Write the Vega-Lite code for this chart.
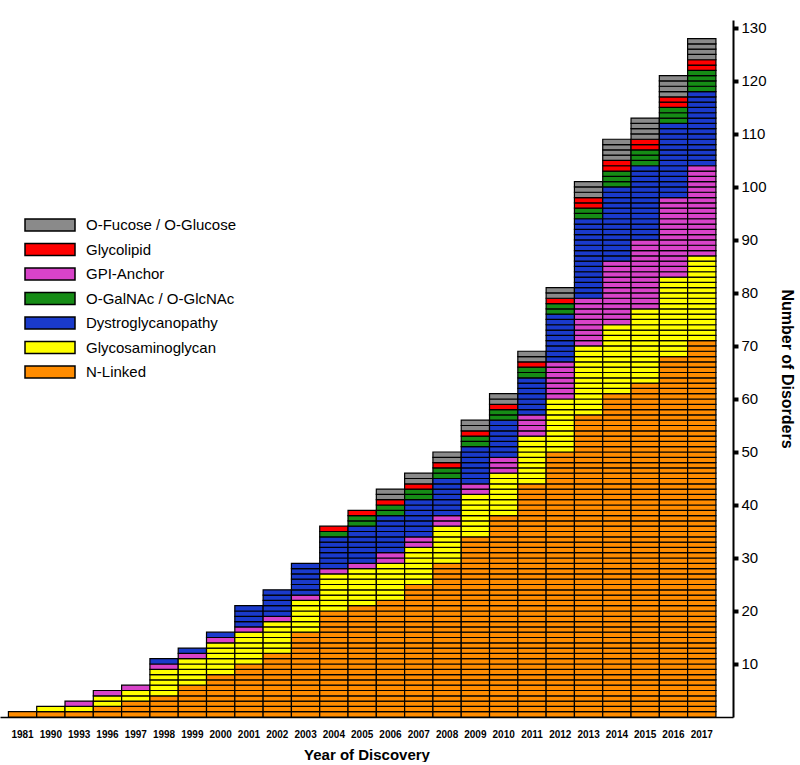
{
"$schema": "https://vega.github.io/schema/vega-lite/v6.json",
"width": 733, "height": 697,
"padding": {"left": 0, "top": 20, "right": 0, "bottom": 0},
"autosize": {"type": "pad"},
"background": "white",
"config": {"view": {"stroke": null}, "font": "Liberation Sans"},
"data": {"values": [
{"year":"1981","category":"N-Linked","rank":1,"count":1,"units":[1]},
{"year":"1990","category":"N-Linked","rank":1,"count":1,"units":[1]},
{"year":"1990","category":"Glycosaminoglycan","rank":2,"count":1,"units":[1]},
{"year":"1993","category":"N-Linked","rank":1,"count":1,"units":[1]},
{"year":"1993","category":"Glycosaminoglycan","rank":2,"count":1,"units":[1]},
{"year":"1993","category":"GPI-Anchor","rank":3,"count":1,"units":[1]},
{"year":"1996","category":"N-Linked","rank":1,"count":2,"units":[1,1]},
{"year":"1996","category":"Glycosaminoglycan","rank":2,"count":2,"units":[1,1]},
{"year":"1996","category":"GPI-Anchor","rank":3,"count":1,"units":[1]},
{"year":"1997","category":"N-Linked","rank":1,"count":3,"units":[1,1,1]},
{"year":"1997","category":"Glycosaminoglycan","rank":2,"count":2,"units":[1,1]},
{"year":"1997","category":"GPI-Anchor","rank":3,"count":1,"units":[1]},
{"year":"1998","category":"N-Linked","rank":1,"count":4,"units":[1,1,1,1]},
{"year":"1998","category":"Glycosaminoglycan","rank":2,"count":5,"units":[1,1,1,1,1]},
{"year":"1998","category":"GPI-Anchor","rank":3,"count":1,"units":[1]},
{"year":"1998","category":"Dystroglycanopathy","rank":4,"count":1,"units":[1]},
{"year":"1999","category":"N-Linked","rank":1,"count":6,"units":[1,1,1,1,1,1]},
{"year":"1999","category":"Glycosaminoglycan","rank":2,"count":5,"units":[1,1,1,1,1]},
{"year":"1999","category":"GPI-Anchor","rank":3,"count":1,"units":[1]},
{"year":"1999","category":"Dystroglycanopathy","rank":4,"count":1,"units":[1]},
{"year":"2000","category":"N-Linked","rank":1,"count":8,"units":[1,1,1,1,1,1,1,1]},
{"year":"2000","category":"Glycosaminoglycan","rank":2,"count":6,"units":[1,1,1,1,1,1]},
{"year":"2000","category":"GPI-Anchor","rank":3,"count":1,"units":[1]},
{"year":"2000","category":"Dystroglycanopathy","rank":4,"count":1,"units":[1]},
{"year":"2001","category":"N-Linked","rank":1,"count":10,"units":[1,1,1,1,1,1,1,1,1,1]},
{"year":"2001","category":"Glycosaminoglycan","rank":2,"count":6,"units":[1,1,1,1,1,1]},
{"year":"2001","category":"GPI-Anchor","rank":3,"count":1,"units":[1]},
{"year":"2001","category":"Dystroglycanopathy","rank":4,"count":4,"units":[1,1,1,1]},
{"year":"2002","category":"N-Linked","rank":1,"count":12,"units":[1,1,1,1,1,1,1,1,1,1,1,1]},
{"year":"2002","category":"Glycosaminoglycan","rank":2,"count":6,"units":[1,1,1,1,1,1]},
{"year":"2002","category":"GPI-Anchor","rank":3,"count":1,"units":[1]},
{"year":"2002","category":"Dystroglycanopathy","rank":4,"count":5,"units":[1,1,1,1,1]},
{"year":"2003","category":"N-Linked","rank":1,"count":16,"units":[1,1,1,1,1,1,1,1,1,1,1,1,1,1,1,1]},
{"year":"2003","category":"Glycosaminoglycan","rank":2,"count":6,"units":[1,1,1,1,1,1]},
{"year":"2003","category":"GPI-Anchor","rank":3,"count":1,"units":[1]},
{"year":"2003","category":"Dystroglycanopathy","rank":4,"count":6,"units":[1,1,1,1,1,1]},
{"year":"2004","category":"N-Linked","rank":1,"count":20,"units":[1,1,1,1,1,1,1,1,1,1,1,1,1,1,1,1,1,1,1,1]},
{"year":"2004","category":"Glycosaminoglycan","rank":2,"count":7,"units":[1,1,1,1,1,1,1]},
{"year":"2004","category":"GPI-Anchor","rank":3,"count":1,"units":[1]},
{"year":"2004","category":"Dystroglycanopathy","rank":4,"count":6,"units":[1,1,1,1,1,1]},
{"year":"2004","category":"O-GalNAc / O-GlcNAc","rank":5,"count":1,"units":[1]},
{"year":"2004","category":"Glycolipid","rank":6,"count":1,"units":[1]},
{"year":"2005","category":"N-Linked","rank":1,"count":21,"units":[1,1,1,1,1,1,1,1,1,1,1,1,1,1,1,1,1,1,1,1,1]},
{"year":"2005","category":"Glycosaminoglycan","rank":2,"count":7,"units":[1,1,1,1,1,1,1]},
{"year":"2005","category":"GPI-Anchor","rank":3,"count":1,"units":[1]},
{"year":"2005","category":"Dystroglycanopathy","rank":4,"count":7,"units":[1,1,1,1,1,1,1]},
{"year":"2005","category":"O-GalNAc / O-GlcNAc","rank":5,"count":2,"units":[1,1]},
{"year":"2005","category":"Glycolipid","rank":6,"count":1,"units":[1]},
{"year":"2006","category":"N-Linked","rank":1,"count":22,"units":[1,1,1,1,1,1,1,1,1,1,1,1,1,1,1,1,1,1,1,1,1,1]},
{"year":"2006","category":"Glycosaminoglycan","rank":2,"count":7,"units":[1,1,1,1,1,1,1]},
{"year":"2006","category":"GPI-Anchor","rank":3,"count":2,"units":[1,1]},
{"year":"2006","category":"Dystroglycanopathy","rank":4,"count":7,"units":[1,1,1,1,1,1,1]},
{"year":"2006","category":"O-GalNAc / O-GlcNAc","rank":5,"count":2,"units":[1,1]},
{"year":"2006","category":"Glycolipid","rank":6,"count":1,"units":[1]},
{"year":"2006","category":"O-Fucose / O-Glucose","rank":7,"count":2,"units":[1,1]},
{"year":"2007","category":"N-Linked","rank":1,"count":25,"units":[1,1,1,1,1,1,1,1,1,1,1,1,1,1,1,1,1,1,1,1,1,1,1,1,1]},
{"year":"2007","category":"Glycosaminoglycan","rank":2,"count":7,"units":[1,1,1,1,1,1,1]},
{"year":"2007","category":"GPI-Anchor","rank":3,"count":2,"units":[1,1]},
{"year":"2007","category":"Dystroglycanopathy","rank":4,"count":7,"units":[1,1,1,1,1,1,1]},
{"year":"2007","category":"O-GalNAc / O-GlcNAc","rank":5,"count":2,"units":[1,1]},
{"year":"2007","category":"Glycolipid","rank":6,"count":1,"units":[1]},
{"year":"2007","category":"O-Fucose / O-Glucose","rank":7,"count":2,"units":[1,1]},
{"year":"2008","category":"N-Linked","rank":1,"count":29,"units":[1,1,1,1,1,1,1,1,1,1,1,1,1,1,1,1,1,1,1,1,1,1,1,1,1,1,1,1,1]},
{"year":"2008","category":"Glycosaminoglycan","rank":2,"count":7,"units":[1,1,1,1,1,1,1]},
{"year":"2008","category":"GPI-Anchor","rank":3,"count":2,"units":[1,1]},
{"year":"2008","category":"Dystroglycanopathy","rank":4,"count":7,"units":[1,1,1,1,1,1,1]},
{"year":"2008","category":"O-GalNAc / O-GlcNAc","rank":5,"count":2,"units":[1,1]},
{"year":"2008","category":"Glycolipid","rank":6,"count":1,"units":[1]},
{"year":"2008","category":"O-Fucose / O-Glucose","rank":7,"count":2,"units":[1,1]},
{"year":"2009","category":"N-Linked","rank":1,"count":34,"units":[1,1,1,1,1,1,1,1,1,1,1,1,1,1,1,1,1,1,1,1,1,1,1,1,1,1,1,1,1,1,1,1,1,1]},
{"year":"2009","category":"Glycosaminoglycan","rank":2,"count":8,"units":[1,1,1,1,1,1,1,1]},
{"year":"2009","category":"GPI-Anchor","rank":3,"count":2,"units":[1,1]},
{"year":"2009","category":"Dystroglycanopathy","rank":4,"count":7,"units":[1,1,1,1,1,1,1]},
{"year":"2009","category":"O-GalNAc / O-GlcNAc","rank":5,"count":2,"units":[1,1]},
{"year":"2009","category":"Glycolipid","rank":6,"count":1,"units":[1]},
{"year":"2009","category":"O-Fucose / O-Glucose","rank":7,"count":2,"units":[1,1]},
{"year":"2010","category":"N-Linked","rank":1,"count":38,"units":[1,1,1,1,1,1,1,1,1,1,1,1,1,1,1,1,1,1,1,1,1,1,1,1,1,1,1,1,1,1,1,1,1,1,1,1,1,1]},
{"year":"2010","category":"Glycosaminoglycan","rank":2,"count":8,"units":[1,1,1,1,1,1,1,1]},
{"year":"2010","category":"GPI-Anchor","rank":3,"count":3,"units":[1,1,1]},
{"year":"2010","category":"Dystroglycanopathy","rank":4,"count":7,"units":[1,1,1,1,1,1,1]},
{"year":"2010","category":"O-GalNAc / O-GlcNAc","rank":5,"count":2,"units":[1,1]},
{"year":"2010","category":"Glycolipid","rank":6,"count":1,"units":[1]},
{"year":"2010","category":"O-Fucose / O-Glucose","rank":7,"count":2,"units":[1,1]},
{"year":"2011","category":"N-Linked","rank":1,"count":44,"units":[1,1,1,1,1,1,1,1,1,1,1,1,1,1,1,1,1,1,1,1,1,1,1,1,1,1,1,1,1,1,1,1,1,1,1,1,1,1,1,1,1,1,1,1]},
{"year":"2011","category":"Glycosaminoglycan","rank":2,"count":9,"units":[1,1,1,1,1,1,1,1,1]},
{"year":"2011","category":"GPI-Anchor","rank":3,"count":4,"units":[1,1,1,1]},
{"year":"2011","category":"Dystroglycanopathy","rank":4,"count":7,"units":[1,1,1,1,1,1,1]},
{"year":"2011","category":"O-GalNAc / O-GlcNAc","rank":5,"count":2,"units":[1,1]},
{"year":"2011","category":"Glycolipid","rank":6,"count":1,"units":[1]},
{"year":"2011","category":"O-Fucose / O-Glucose","rank":7,"count":2,"units":[1,1]},
{"year":"2012","category":"N-Linked","rank":1,"count":50,"units":[1,1,1,1,1,1,1,1,1,1,1,1,1,1,1,1,1,1,1,1,1,1,1,1,1,1,1,1,1,1,1,1,1,1,1,1,1,1,1,1,1,1,1,1,1,1,1,1,1,1]},
{"year":"2012","category":"Glycosaminoglycan","rank":2,"count":10,"units":[1,1,1,1,1,1,1,1,1,1]},
{"year":"2012","category":"GPI-Anchor","rank":3,"count":7,"units":[1,1,1,1,1,1,1]},
{"year":"2012","category":"Dystroglycanopathy","rank":4,"count":9,"units":[1,1,1,1,1,1,1,1,1]},
{"year":"2012","category":"O-GalNAc / O-GlcNAc","rank":5,"count":2,"units":[1,1]},
{"year":"2012","category":"Glycolipid","rank":6,"count":1,"units":[1]},
{"year":"2012","category":"O-Fucose / O-Glucose","rank":7,"count":2,"units":[1,1]},
{"year":"2013","category":"N-Linked","rank":1,"count":57,"units":[1,1,1,1,1,1,1,1,1,1,1,1,1,1,1,1,1,1,1,1,1,1,1,1,1,1,1,1,1,1,1,1,1,1,1,1,1,1,1,1,1,1,1,1,1,1,1,1,1,1,1,1,1,1,1,1,1]},
{"year":"2013","category":"Glycosaminoglycan","rank":2,"count":13,"units":[1,1,1,1,1,1,1,1,1,1,1,1,1]},
{"year":"2013","category":"GPI-Anchor","rank":3,"count":9,"units":[1,1,1,1,1,1,1,1,1]},
{"year":"2013","category":"Dystroglycanopathy","rank":4,"count":15,"units":[1,1,1,1,1,1,1,1,1,1,1,1,1,1,1]},
{"year":"2013","category":"O-GalNAc / O-GlcNAc","rank":5,"count":2,"units":[1,1]},
{"year":"2013","category":"Glycolipid","rank":6,"count":2,"units":[1,1]},
{"year":"2013","category":"O-Fucose / O-Glucose","rank":7,"count":3,"units":[1,1,1]},
{"year":"2014","category":"N-Linked","rank":1,"count":61,"units":[1,1,1,1,1,1,1,1,1,1,1,1,1,1,1,1,1,1,1,1,1,1,1,1,1,1,1,1,1,1,1,1,1,1,1,1,1,1,1,1,1,1,1,1,1,1,1,1,1,1,1,1,1,1,1,1,1,1,1,1,1]},
{"year":"2014","category":"Glycosaminoglycan","rank":2,"count":13,"units":[1,1,1,1,1,1,1,1,1,1,1,1,1]},
{"year":"2014","category":"GPI-Anchor","rank":3,"count":12,"units":[1,1,1,1,1,1,1,1,1,1,1,1]},
{"year":"2014","category":"Dystroglycanopathy","rank":4,"count":14,"units":[1,1,1,1,1,1,1,1,1,1,1,1,1,1]},
{"year":"2014","category":"O-GalNAc / O-GlcNAc","rank":5,"count":3,"units":[1,1,1]},
{"year":"2014","category":"Glycolipid","rank":6,"count":2,"units":[1,1]},
{"year":"2014","category":"O-Fucose / O-Glucose","rank":7,"count":4,"units":[1,1,1,1]},
{"year":"2015","category":"N-Linked","rank":1,"count":63,"units":[1,1,1,1,1,1,1,1,1,1,1,1,1,1,1,1,1,1,1,1,1,1,1,1,1,1,1,1,1,1,1,1,1,1,1,1,1,1,1,1,1,1,1,1,1,1,1,1,1,1,1,1,1,1,1,1,1,1,1,1,1,1,1]},
{"year":"2015","category":"Glycosaminoglycan","rank":2,"count":14,"units":[1,1,1,1,1,1,1,1,1,1,1,1,1,1]},
{"year":"2015","category":"GPI-Anchor","rank":3,"count":13,"units":[1,1,1,1,1,1,1,1,1,1,1,1,1]},
{"year":"2015","category":"Dystroglycanopathy","rank":4,"count":14,"units":[1,1,1,1,1,1,1,1,1,1,1,1,1,1]},
{"year":"2015","category":"O-GalNAc / O-GlcNAc","rank":5,"count":3,"units":[1,1,1]},
{"year":"2015","category":"Glycolipid","rank":6,"count":2,"units":[1,1]},
{"year":"2015","category":"O-Fucose / O-Glucose","rank":7,"count":4,"units":[1,1,1,1]},
{"year":"2016","category":"N-Linked","rank":1,"count":68,"units":[1,1,1,1,1,1,1,1,1,1,1,1,1,1,1,1,1,1,1,1,1,1,1,1,1,1,1,1,1,1,1,1,1,1,1,1,1,1,1,1,1,1,1,1,1,1,1,1,1,1,1,1,1,1,1,1,1,1,1,1,1,1,1,1,1,1,1,1]},
{"year":"2016","category":"Glycosaminoglycan","rank":2,"count":15,"units":[1,1,1,1,1,1,1,1,1,1,1,1,1,1,1]},
{"year":"2016","category":"GPI-Anchor","rank":3,"count":15,"units":[1,1,1,1,1,1,1,1,1,1,1,1,1,1,1]},
{"year":"2016","category":"Dystroglycanopathy","rank":4,"count":14,"units":[1,1,1,1,1,1,1,1,1,1,1,1,1,1]},
{"year":"2016","category":"O-GalNAc / O-GlcNAc","rank":5,"count":3,"units":[1,1,1]},
{"year":"2016","category":"Glycolipid","rank":6,"count":2,"units":[1,1]},
{"year":"2016","category":"O-Fucose / O-Glucose","rank":7,"count":4,"units":[1,1,1,1]},
{"year":"2017","category":"N-Linked","rank":1,"count":71,"units":[1,1,1,1,1,1,1,1,1,1,1,1,1,1,1,1,1,1,1,1,1,1,1,1,1,1,1,1,1,1,1,1,1,1,1,1,1,1,1,1,1,1,1,1,1,1,1,1,1,1,1,1,1,1,1,1,1,1,1,1,1,1,1,1,1,1,1,1,1,1,1]},
{"year":"2017","category":"Glycosaminoglycan","rank":2,"count":16,"units":[1,1,1,1,1,1,1,1,1,1,1,1,1,1,1,1]},
{"year":"2017","category":"GPI-Anchor","rank":3,"count":17,"units":[1,1,1,1,1,1,1,1,1,1,1,1,1,1,1,1,1]},
{"year":"2017","category":"Dystroglycanopathy","rank":4,"count":14,"units":[1,1,1,1,1,1,1,1,1,1,1,1,1,1]},
{"year":"2017","category":"O-GalNAc / O-GlcNAc","rank":5,"count":4,"units":[1,1,1,1]},
{"year":"2017","category":"Glycolipid","rank":6,"count":2,"units":[1,1]},
{"year":"2017","category":"O-Fucose / O-Glucose","rank":7,"count":4,"units":[1,1,1,1]}
]},
"transform": [{"flatten": ["units"]}],
"mark": {"type": "bar", "stroke": "black", "strokeWidth": 1.2, "opacity": 1},
"encoding": {
  "x": {"field": "year", "type": "ordinal",
    "scale": {"paddingInner": 0, "paddingOuter": 0.45, "align": 0.33},
    "axis": {"title": "Year of Discovery", "titleFontSize": 15, "titleFontWeight": "bold", "titleColor": "black", "titlePadding": 8,
      "labelAngle": 0, "labelFontSize": 10, "labelFontWeight": "bold", "labelColor": "black", "labelPadding": 12,
      "ticks": false, "domainColor": "black", "domainWidth": 1.5}},
  "y": {"field": "units", "type": "quantitative", "stack": "zero",
    "scale": {"domain": [0, 131.5], "nice": false},
    "axis": {"orient": "right", "values": [10,20,30,40,50,60,70,80,90,100,110,120,130],
      "title": "Number of Disorders", "titleFontSize": 16, "titleFontWeight": "bold", "titleColor": "black", "titlePadding": 12,
      "labelFontSize": 15, "labelColor": "black", "labelPadding": 3,
      "tickSize": 5, "tickWidth": 4, "tickColor": "black", "domainColor": "black", "domainWidth": 2, "grid": false}},
  "color": {"field": "category", "type": "nominal",
    "scale": {"domain": ["O-Fucose / O-Glucose", "Glycolipid", "GPI-Anchor", "O-GalNAc / O-GlcNAc", "Dystroglycanopathy", "Glycosaminoglycan", "N-Linked"],
      "range": ["#8a8a8a", "#ff0000", "#d843c9", "#168c16", "#1a3acb", "#ffff00", "#ff8c00"]},
    "legend": {"title": null, "orient": "none", "legendX": 24, "legendY": 192,
      "symbolType": "M-1,-0.5H3.1667V0.5H-1Z", "symbolSize": 576, "symbolStrokeColor": "black", "symbolStrokeWidth": 1.5, "symbolOpacity": 1,
      "labelFontSize": 15, "labelColor": "black", "labelOffset": 36, "rowPadding": 2.5, "padding": 0}},
  "order": {"field": "rank", "type": "quantitative"}
}
}
